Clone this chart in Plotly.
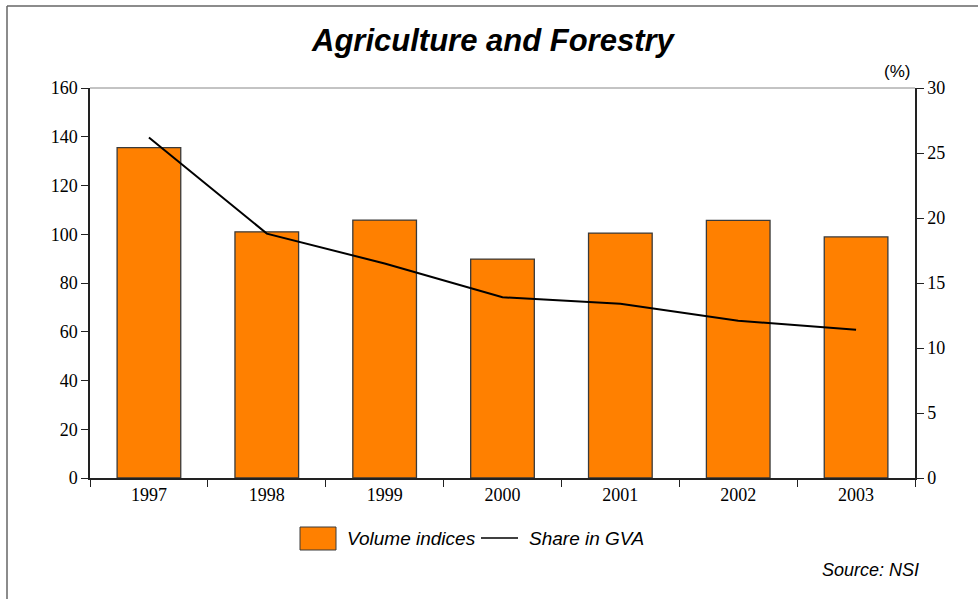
import plotly.graph_objects as go

# Agriculture and Forestry: volume indices (bars, left axis) and share in GVA (line, right axis, %)
years = ["1997", "1998", "1999", "2000", "2001", "2002", "2003"]
volume_indices = [135.5, 101.0, 105.8, 89.8, 100.5, 105.7, 98.9]
share_in_gva = [26.2, 18.8, 16.5, 13.9, 13.4, 12.1, 11.4]

left_ticks = [0, 20, 40, 60, 80, 100, 120, 140, 160]
right_ticks = [0, 5, 10, 15, 20, 25, 30]

ORANGE = "#FF8000"
SERIF = "Liberation Serif, Times New Roman, serif"
SANS = "Liberation Sans, Arial, sans-serif"

fig = go.Figure()
fig.add_trace(go.Bar(
    x=years, y=volume_indices, name="Volume indices",
    marker=dict(color=ORANGE, line=dict(color="#3a3a3a", width=1.3)),
    showlegend=False,
))
fig.add_trace(go.Scatter(
    x=years, y=share_in_gva, name="Share in GVA", yaxis="y2",
    mode="lines", line=dict(color="black", width=2),
    showlegend=False,
))

W, H = 978, 599
L, R, T, B = 90, 63, 88, 121
pw, ph = W - L - R, H - T - B


def px(xp):
    return (xp - L) / pw


def py(yp):
    return (H - B - yp) / ph


shapes = [
    # frame around the chart (left and top edges)
    dict(type="line", xref="paper", yref="paper", x0=px(7), x1=px(7), y0=py(6), y1=py(H + 2),
         line=dict(color="#666666", width=1.5)),
    dict(type="line", xref="paper", yref="paper", x0=px(7), x1=px(W + 2), y0=py(6), y1=py(6),
         line=dict(color="#666666", width=1.5)),
    # top edge of the plot area
    dict(type="line", xref="paper", yref="paper", x0=0, x1=1, y0=1, y1=1,
         line=dict(color="#888888", width=1)),
    # legend swatches
    dict(type="rect", xref="paper", yref="paper", x0=px(300), x1=px(336), y0=py(527), y1=py(550),
         fillcolor=ORANGE, line=dict(color="#3a3a3a", width=1)),
    dict(type="line", xref="paper", yref="paper", x0=px(481), x1=px(518), y0=py(538), y1=py(538),
         line=dict(color="black", width=1.5)),
]

annotations = [
    dict(text="(%)", xref="paper", yref="paper", x=px(897), y=py(72), showarrow=False,
         font=dict(family=SANS, size=17, color="black"), xanchor="center", yanchor="middle"),
    dict(text="<i>Volume indices</i>", xref="paper", yref="paper", x=px(345), y=py(538),
         showarrow=False, font=dict(family=SANS, size=19, color="black"),
         xanchor="left", yanchor="middle"),
    dict(text="<i>Share in GVA</i>", xref="paper", yref="paper", x=px(527), y=py(538),
         showarrow=False, font=dict(family=SANS, size=19, color="black"),
         xanchor="left", yanchor="middle"),
    dict(text="<i>Source: NSI</i>", xref="paper", yref="paper", x=px(921), y=py(570),
         showarrow=False, font=dict(family=SANS, size=18, color="black"),
         xanchor="right", yanchor="middle"),
]

fig.update_layout(
    width=W, height=H,
    margin=dict(l=L, r=R, t=T, b=B),
    paper_bgcolor="white", plot_bgcolor="white",
    title=dict(text="<b><i>Agriculture and Forestry</i></b>", x=0.504, xanchor="center",
               y=1 - 40 / H, yanchor="middle",
               font=dict(family=SANS, size=31, color="black")),
    bargap=0.46,
    xaxis=dict(
        type="category", tickson="boundaries", ticks="outside", ticklen=7, tickcolor="#222",
        showline=True, linecolor="#222", linewidth=1.5, showgrid=False,
        tickfont=dict(family=SERIF, size=18, color="black"),
    ),
    yaxis=dict(
        range=[0, 160], tickvals=left_ticks, ticks="outside", ticklen=7, tickcolor="#222",
        showline=True, linecolor="#222", linewidth=1.5, showgrid=False, zeroline=False,
        tickfont=dict(family=SERIF, size=18, color="black"),
    ),
    yaxis2=dict(
        range=[0, 30], tickvals=right_ticks, overlaying="y", side="right",
        ticks="outside", ticklen=7, tickcolor="#222",
        showline=True, linecolor="#222", linewidth=1.5, showgrid=False, zeroline=False,
        tickfont=dict(family=SERIF, size=18, color="black"),
    ),
    shapes=shapes,
    annotations=annotations,
)

fig.write_html("out.html")
